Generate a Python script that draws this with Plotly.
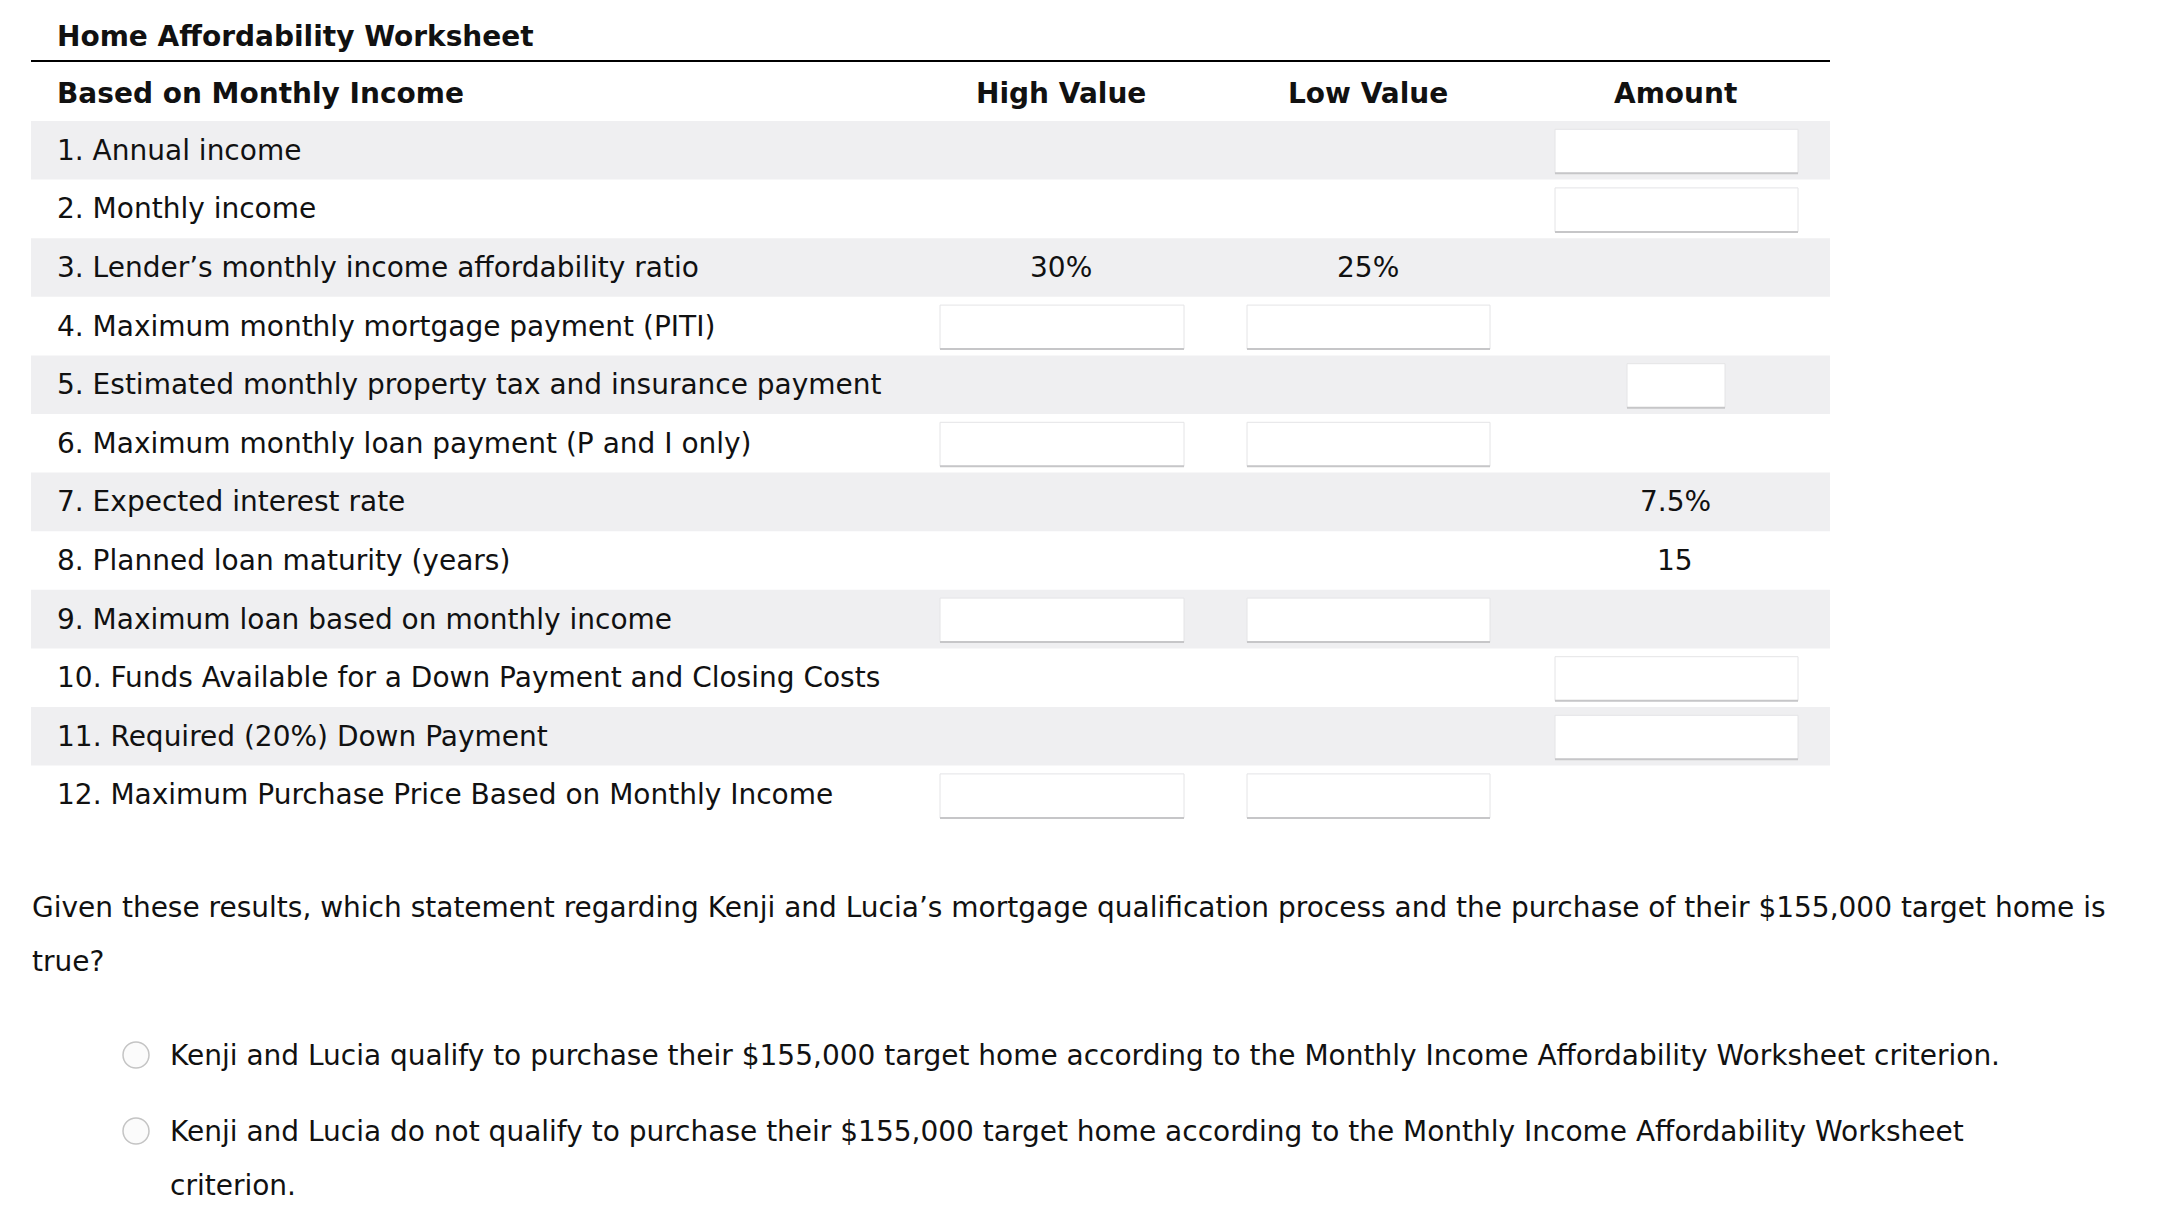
import plotly.graph_objects as go

# ---- data ----
title = "Home Affordability Worksheet"
section_header = "Based on Monthly Income"
col_headers = ["High Value", "Low Value", "Amount"]
row_labels = [
    "1. Annual income",
    "2. Monthly income",
    "3. Lender\u2019s monthly income affordability ratio",
    "4. Maximum monthly mortgage payment (PITI)",
    "5. Estimated monthly property tax and insurance payment",
    "6. Maximum monthly loan payment (P and I only)",
    "7. Expected interest rate",
    "8. Planned loan maturity (years)",
    "9. Maximum loan based on monthly income",
    "10. Funds Available for a Down Payment and Closing Costs",
    "11. Required (20%) Down Payment",
    "12. Maximum Purchase Price Based on Monthly Income",
]
high_values = ["", "", "30%", "", "", "", "", "", "", "", "", ""]
low_values = ["", "", "25%", "", "", "", "", "", "", "", "", ""]
amount_values = ["", "", "", "", "", "", "7.5%", "15", "", "", "", ""]
# input box kinds per row: which columns have an entry box
high_box = [0, 0, 0, 1, 0, 1, 0, 0, 1, 0, 0, 1]
low_box = [0, 0, 0, 1, 0, 1, 0, 0, 1, 0, 0, 1]
amount_box = ["wide", "wide", "", "", "small", "", "", "", "", "wide", "wide", ""]

question_lines = [
    "Given these results, which statement regarding Kenji and Lucia\u2019s mortgage "
    "qualification process and the purchase of their $155,000 target home is",
    "true?",
]
options = [
    ["Kenji and Lucia qualify to purchase their $155,000 target home according to the Monthly Income Affordability Worksheet criterion."],
    ["Kenji and Lucia do not qualify to purchase their $155,000 target home according to the Monthly Income Affordability Worksheet",
     "criterion."],
]

# ---- layout geometry ----
W, H = 2164, 1220
OFF = 8  # page body margin
FONT = "Verdana, DejaVu Sans, sans-serif"
FS = 28
TXT = "#111111"
BAND = "#efeff1"
left, right = 31, 1830
top0, rh = 121, 58.6
col_x = [1061, 1368, 1675]
box_x = {"high": (940, 1184), "low": (1247, 1490), "wide": (1555, 1798), "small": (1627, 1725)}
line_gap = 54

shapes = []
ann = []

def text(x, y, s, bold=False, xanchor="left", size=FS):
    ann.append(dict(x=x, y=y, xref="x", yref="y", text=(f"<b>{s}</b>" if bold else s),
                    showarrow=False, xanchor=xanchor, yanchor="middle",
                    font=dict(family=FONT, size=size, color=TXT), align="left"))

def box(x0, x1, yc):
    y0, y1 = yc - 21, yc + 23
    shapes.append(dict(type="rect", xref="x", yref="y", x0=x0, x1=x1, y0=y0, y1=y1,
                       fillcolor="white", line=dict(color="#e4e4e6", width=1), layer="above"))
    shapes.append(dict(type="line", xref="x", yref="y", x0=x0, x1=x1, y0=y1, y1=y1,
                       line=dict(color="#c6c6c8", width=2), layer="above"))

text(55, 36, title, bold=True)
shapes.append(dict(type="line", xref="x", yref="y", x0=left, x1=right, y0=61, y1=61,
                   line=dict(color="black", width=2)))
text(55, 93, section_header, bold=True)
for cx, h in zip(col_x, col_headers):
    text(cx, 93, h, bold=True, xanchor="center")

for i, lab in enumerate(row_labels):
    y0 = top0 + i * rh
    yc = y0 + rh / 2
    if i % 2 == 0:
        shapes.append(dict(type="rect", xref="x", yref="y", x0=left, x1=right, y0=y0, y1=y0 + rh,
                           fillcolor=BAND, line=dict(width=0), layer="below"))
    text(55, yc, lab)
    if high_values[i]:
        text(col_x[0], yc, high_values[i], xanchor="center")
    if low_values[i]:
        text(col_x[1], yc, low_values[i], xanchor="center")
    if amount_values[i]:
        text(col_x[2], yc, amount_values[i], xanchor="center")
    if high_box[i]:
        box(*box_x["high"], yc)
    if low_box[i]:
        box(*box_x["low"], yc)
    if amount_box[i]:
        box(*box_x[amount_box[i]], yc)

# question
for k, ln in enumerate(question_lines):
    text(30, 907 + k * line_gap, ln)

opt_y = [1055, 1131]
for oy, lines in zip(opt_y, options):
    shapes.append(dict(type="circle", xref="x", yref="y", x0=123, x1=149, y0=oy - 13, y1=oy + 13,
                       fillcolor="#fbfbfb", line=dict(color="#c4c4c4", width=1.5)))
    for k, ln in enumerate(lines):
        text(168, oy + k * line_gap, ln)

fig = go.Figure()
fig.add_trace(go.Scatter(x=[OFF, W], y=[OFF, H], mode="markers", marker=dict(opacity=0),
                         hoverinfo="skip", showlegend=False))
fig.update_layout(
    width=W - OFF, height=H - OFF, margin=dict(l=0, r=0, t=0, b=0),
    paper_bgcolor="white", plot_bgcolor="white",
    xaxis=dict(range=[OFF, W], visible=False, fixedrange=True),
    yaxis=dict(range=[H, OFF], visible=False, fixedrange=True),
    shapes=shapes, annotations=ann, showlegend=False,
)
fig.write_html("out.html")
